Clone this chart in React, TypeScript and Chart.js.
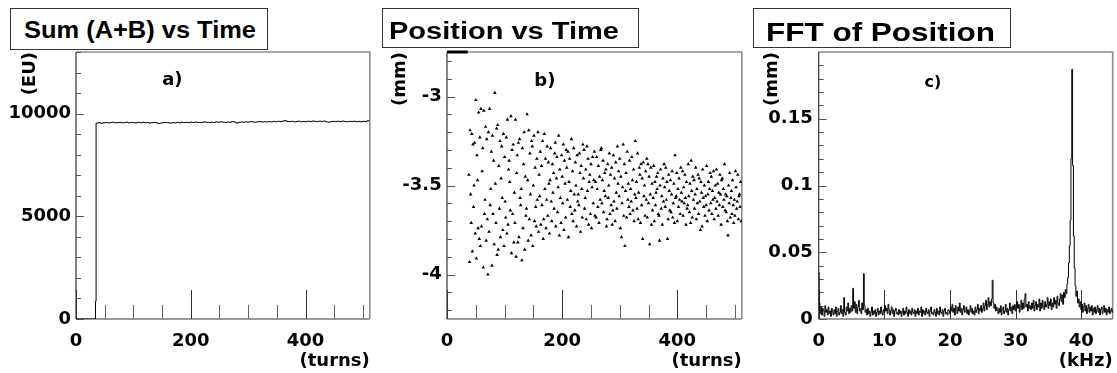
import React, { useEffect, useRef } from 'react';
import { Chart, registerables } from 'chart.js';

Chart.register(...registerables);

// ---------------- axis ticks ----------------
const turnTicks = [0, 50, 100, 150, 200, 250, 300, 350, 400, 450, 500];
const turnMajorTicks = [0, 200, 400];
const sumTicks = [0, 1000, 2000, 3000, 4000, 5000, 6000, 7000, 8000, 9000, 10000, 11000, 12000, 13000];
const sumMajorTicks = [0, 5000, 10000];
const posTicks = [-4.2, -4.1, -4, -3.9, -3.8, -3.7, -3.6, -3.5, -3.4, -3.3, -3.2, -3.1, -3, -2.9, -2.8];
const posMajorTicks = [-4, -3.5, -3];
const fftTicks = [0, 0.01, 0.02, 0.03, 0.04, 0.05, 0.06, 0.07, 0.08, 0.09, 0.1, 0.11, 0.12, 0.13, 0.14, 0.15, 0.16, 0.17, 0.18, 0.19];
const fftMajorTicks = [0, 0.05, 0.1, 0.15];
const kHzTicks = [0, 10, 20, 30, 40];
const kHzMajorTicks = [0, 10, 20, 30, 40];

// ---------------- a) Sum (A+B) vs Time ----------------
const sumPreTurns = [0, 34];
const sumPreValues = [0, 860];
const sumStartTurn = 35;
const sumBinTurns = 4;
const sumValues = [
  9540, 9560, 9530, 9555, 9570, 9545, 9560, 9580, 9550, 9565,
  9575, 9550, 9560, 9585, 9555, 9570, 9560, 9545, 9575, 9560,
  9580, 9555, 9565, 9540, 9560, 9575, 9550, 9520, 9545, 9560,
  9570, 9555, 9535, 9560, 9550, 9570, 9555, 9580, 9565, 9575,
  9560, 9585, 9570, 9590, 9575, 9560, 9580, 9595, 9575, 9560,
  9585, 9570, 9595, 9580, 9600, 9585, 9570, 9590, 9580, 9610,
  9590, 9540, 9575, 9595, 9580, 9600, 9585, 9610, 9595, 9580,
  9600, 9615, 9590, 9605, 9595, 9610, 9600, 9620, 9605, 9625,
  9610, 9630, 9660, 9620, 9610, 9625, 9600, 9615, 9630, 9605,
  9620, 9610, 9630, 9615, 9640, 9625, 9610, 9635, 9620, 9640,
  9600, 9585, 9610, 9625, 9610, 9630, 9615, 9635, 9620, 9605,
  9625, 9615, 9630, 9610, 9620, 9605, 9625, 9615, 9650, 9630,
];

// ---------------- b) Position vs Time ----------------
// turns before the beam arrives are off-scale (above the frame)
const posOffscaleTurns = [0, 36];
const posStartTurn = 38;
const posValues = [
  -3.44, -3.93, -3.19, -3.55, -3.71, -3.21, -3.87, -3.27, -3.62, -3.50,
  -3.26, -3.77, -3.02, -3.91, -3.33, -3.47, -3.74, -3.09, -3.80, -3.23,
  -3.84, -3.07, -3.73, -3.42, -3.29, -3.96, -3.08, -3.66, -3.58, -3.17,
  -3.81, -3.24, -3.69, -4.00, -3.20, -3.76, -3.07, -3.61, -3.52, -3.31,
  -3.95, -3.22, -3.66, -3.36, -3.83, -2.98, -3.49, -3.71, -3.18, -3.89,
  -3.16, -3.86, -3.39, -3.63, -3.25, -3.79, -3.46, -3.28, -3.57, -3.75,
  -3.21, -3.84, -3.34, -3.59, -3.68, -3.23, -3.77, -3.13, -3.72, -3.41,
  -3.36, -3.48, -3.64, -3.11, -3.88, -3.30, -3.66, -3.27, -3.82, -3.54,
  -3.71, -3.13, -3.90, -3.43, -3.33, -3.82, -3.26, -3.79, -3.24, -3.57,
  -3.61, -3.52, -3.92, -3.29, -3.74, -3.38, -3.20, -3.86, -3.45, -3.67,
  -3.63, -3.10, -3.47, -3.81, -3.19, -3.69, -3.32, -3.55, -3.78, -3.25,
  -3.28, -3.84, -3.50, -3.22, -3.70, -3.40, -3.62, -3.73, -3.35, -3.58,
  -3.20, -3.76, -3.44, -3.56, -3.31, -3.72, -3.39, -3.61, -3.25, -3.80,
  -3.69, -3.21, -3.52, -3.35, -3.74, -3.58, -3.28, -3.67, -3.37, -3.49,
  -3.77, -3.47, -3.29, -3.59, -3.70, -3.38, -3.54, -3.43, -3.63, -3.32,
  -3.26, -3.73, -3.46, -3.34, -3.65, -3.51, -3.22, -3.78, -3.41, -3.57,
  -3.71, -3.33, -3.45, -3.60, -3.27, -3.75, -3.36, -3.49, -3.68, -3.30,
  -3.40, -3.58, -3.31, -3.79, -3.48, -3.35, -3.62, -3.53, -3.24, -3.66,
  -3.42, -3.70, -3.29, -3.55, -3.64, -3.37, -3.50, -3.73, -3.33, -3.59,
  -3.55, -3.61, -3.32, -3.43, -3.76, -3.39, -3.52, -3.68, -3.27, -3.46,
  -3.30, -3.63, -3.57, -3.41, -3.69, -3.28, -3.53, -3.35, -3.72, -3.48,
  -3.44, -3.66, -3.38, -3.74, -3.51, -3.34, -3.60, -3.47, -3.31, -3.67,
  -3.48, -3.68, -3.34, -3.52, -3.62, -3.39, -3.71, -3.45, -3.58, -3.30,
  -3.29, -3.60, -3.47, -3.36, -3.65, -3.53, -3.43, -3.56, -3.41, -3.73,
  -3.69, -3.38, -3.57, -3.50, -3.32, -3.66, -3.44, -3.61, -3.40, -3.72,
  -3.64, -3.33, -3.59, -3.46, -3.70, -3.37, -3.54, -3.63, -3.28, -3.49,
  -3.42, -3.56, -3.35, -3.74, -3.45, -3.79, -3.60, -3.51, -3.27, -3.67,
  -3.38, -3.84, -3.53, -3.43, -3.68, -3.31, -3.58, -3.49, -3.62, -3.36,
  -3.66, -3.52, -3.59, -3.34, -3.47, -3.64, -3.41, -3.70, -3.55, -3.25,
  -3.57, -3.48, -3.63, -3.32, -3.69, -3.54, -3.40, -3.44, -3.71, -3.38,
  -3.61, -3.46, -3.80, -3.37, -3.56, -3.50, -3.67, -3.42, -3.58, -3.35,
  -3.68, -3.38, -3.60, -3.45, -3.83, -3.55, -3.40, -3.72, -3.49, -3.64,
  -3.57, -3.39, -3.70, -3.48, -3.61, -3.54, -3.45, -3.52, -3.43, -3.66,
  -3.67, -3.81, -3.50, -3.41, -3.63, -3.56, -3.72, -3.46, -3.59, -3.38,
  -3.51, -3.62, -3.40, -3.58, -3.48, -3.80, -3.69, -3.44, -3.53, -3.64,
  -3.47, -3.65, -3.55, -3.42, -3.68, -3.60, -3.49, -3.71, -3.33, -3.57,
  -3.56, -3.43, -3.70, -3.52, -3.62, -3.46, -3.58, -3.66, -3.40, -3.54,
  -3.59, -3.42, -3.67, -3.51, -3.60, -3.44, -3.57, -3.72, -3.48, -3.63,
  -3.61, -3.38, -3.56, -3.65, -3.49, -3.71, -3.36, -3.53, -3.68, -3.45,
  -3.58, -3.47, -3.63, -3.55, -3.40, -3.69, -3.52, -3.60, -3.44, -3.66,
  -3.46, -3.59, -3.75, -3.48, -3.54, -3.73, -3.41, -3.57, -3.62, -3.50,
  -3.67, -3.56, -3.61, -3.39, -3.70, -3.55, -3.48, -3.64, -3.52, -3.43,
  -3.60, -3.45, -3.66, -3.53, -3.58, -3.42, -3.69, -3.57, -3.50, -3.63,
  -3.41, -3.59, -3.49, -3.67, -3.54, -3.61, -3.44, -3.55, -3.72, -3.47,
  -3.46, -3.62, -3.52, -3.58, -3.38, -3.64, -3.55, -3.65, -3.56, -3.70,
  -3.78, -3.50, -3.60, -3.43, -3.68, -3.57, -3.53, -3.66, -3.47, -3.61,
  -3.71, -3.58, -3.67, -3.42, -3.51, -3.63, -3.59, -3.44, -3.69, -3.56,
  -3.55, -3.62, -3.48, -3.70,
];

// ---------------- c) FFT of Position (0.125 kHz bins) ----------------
const fftBinKHz = 0.125;
const fftValues = [
  0.035, 0.012, 0.004, 0.009, 0.003, 0.008, 0.006, 0.002, 0.010, 0.005, 0.007, 0.003, 0.009, 0.004, 0.006, 0.002, 0.008, 0.005, 0.003, 0.007,
  0.004, 0.009, 0.002, 0.006, 0.008, 0.003, 0.005, 0.010, 0.004, 0.007, 0.002, 0.016, 0.005, 0.003, 0.009, 0.006, 0.012, 0.004, 0.008, 0.005,
  0.010, 0.006, 0.023, 0.008, 0.013, 0.005, 0.011, 0.004, 0.009, 0.014, 0.006, 0.008, 0.004, 0.012, 0.007, 0.034, 0.010, 0.005, 0.007, 0.003,
  0.008, 0.004, 0.006, 0.002, 0.005, 0.009, 0.003, 0.006, 0.004, 0.007, 0.002, 0.005, 0.008, 0.003, 0.006, 0.004, 0.009, 0.005, 0.003, 0.007,
  0.005, 0.010, 0.006, 0.008, 0.004, 0.011, 0.007, 0.003, 0.006, 0.009, 0.004, 0.007, 0.002, 0.006, 0.008, 0.004, 0.005, 0.003, 0.007, 0.004,
  0.006, 0.002, 0.005, 0.008, 0.003, 0.006, 0.004, 0.009, 0.005, 0.002, 0.007, 0.004, 0.006, 0.003, 0.008, 0.005, 0.004, 0.007, 0.002, 0.006,
  0.004, 0.008, 0.003, 0.006, 0.005, 0.009, 0.002, 0.007, 0.004, 0.006, 0.003, 0.008, 0.005, 0.004, 0.007, 0.002, 0.006, 0.009, 0.004, 0.005,
  0.003, 0.007, 0.005, 0.002, 0.008, 0.004, 0.006, 0.003, 0.009, 0.005, 0.004, 0.007, 0.002, 0.006, 0.008, 0.004, 0.005, 0.003, 0.007, 0.006,
  0.004, 0.009, 0.006, 0.011, 0.005, 0.008, 0.003, 0.010, 0.007, 0.004, 0.009, 0.006, 0.012, 0.005, 0.008, 0.003, 0.007, 0.010, 0.005, 0.006,
  0.009, 0.004, 0.007, 0.003, 0.006, 0.010, 0.005, 0.008, 0.004, 0.006, 0.003, 0.009, 0.005, 0.007, 0.011, 0.004, 0.008, 0.006, 0.010, 0.005,
  0.008, 0.012, 0.006, 0.010, 0.014, 0.007, 0.011, 0.016, 0.009, 0.013, 0.010, 0.015, 0.029, 0.012, 0.008, 0.011, 0.006, 0.009, 0.007, 0.004,
  0.008, 0.005, 0.010, 0.003, 0.007, 0.009, 0.004, 0.006, 0.011, 0.005, 0.008, 0.003, 0.007, 0.012, 0.006, 0.009, 0.004, 0.010, 0.007, 0.011,
  0.006, 0.010, 0.013, 0.008, 0.011, 0.005, 0.009, 0.014, 0.007, 0.012, 0.008, 0.015, 0.019, 0.009, 0.011, 0.006, 0.013, 0.008, 0.010, 0.007,
  0.012, 0.008, 0.014, 0.006, 0.010, 0.013, 0.007, 0.011, 0.009, 0.015, 0.006, 0.012, 0.008, 0.014, 0.010, 0.007, 0.013, 0.009, 0.011, 0.016,
  0.008, 0.013, 0.010, 0.015, 0.007, 0.012, 0.009, 0.016, 0.011, 0.014, 0.008, 0.017, 0.012, 0.010, 0.015, 0.019, 0.013, 0.018, 0.011, 0.020,
  0.016, 0.022, 0.019, 0.026, 0.031, 0.042, 0.055, 0.074, 0.120, 0.187, 0.115, 0.062, 0.038, 0.025, 0.017, 0.021, 0.012, 0.015, 0.009, 0.013,
  0.007, 0.011, 0.005, 0.009, 0.012, 0.006, 0.010, 0.004, 0.008, 0.011, 0.005, 0.009, 0.006, 0.010, 0.003, 0.008, 0.005, 0.009, 0.004, 0.007,
  0.010, 0.005, 0.008, 0.003, 0.007, 0.009, 0.004, 0.006, 0.010, 0.005, 0.008, 0.003, 0.007, 0.005, 0.009, 0.004, 0.006, 0.008, 0.005, 0.007,
];

// ---------------- helpers ----------------
const FONT = 'DejaVu Sans';

const rootFrame = {
  id: 'rootFrame',
  beforeDatasetsDraw(chart: any, _args: any, opts: any) {
    const { ctx, chartArea } = chart;
    const { left, right, top, bottom } = chartArea;
    const xs = chart.scales.x;
    const ys = chart.scales.y;
    ctx.save();
    ctx.lineCap = 'butt';
    ctx.strokeStyle = '#8c8c8c';
    ctx.lineWidth = 1.6;
    ctx.beginPath();
    ctx.moveTo(left, top);
    ctx.lineTo(right, top);
    ctx.lineTo(right, bottom);
    ctx.stroke();
    ctx.strokeStyle = '#7a7a7a';
    ctx.lineWidth = 1.3;
    ctx.beginPath();
    ctx.moveTo(left, bottom);
    ctx.lineTo(right, bottom);
    ctx.stroke();
    ctx.strokeStyle = '#444';
    ctx.beginPath();
    ctx.moveTo(left, top);
    ctx.lineTo(left, bottom);
    ctx.stroke();
    ctx.lineWidth = 1;
    for (const t of xs.ticks) {
      const major = opts.xMajor.includes(t.value);
      const px = Math.round(xs.getPixelForValue(t.value)) + 0.5;
      ctx.strokeStyle = major ? '#333' : '#666';
      ctx.beginPath();
      ctx.moveTo(px, bottom);
      ctx.lineTo(px, bottom - (major ? 29 : 14));
      ctx.stroke();
    }
    for (const t of ys.ticks) {
      const major = opts.yMajor.includes(t.value);
      const py = Math.round(ys.getPixelForValue(t.value)) + 0.5;
      ctx.strokeStyle = '#555';
      ctx.beginPath();
      ctx.moveTo(left, py);
      ctx.lineTo(left + (major ? 8 : 5), py);
      ctx.stroke();
    }
    ctx.restore();
  },
  afterDatasetsDraw(chart: any, _args: any, opts: any) {
    const { ctx } = chart;
    const xs = chart.scales.x;
    const ys = chart.scales.y;
    ctx.save();
    ctx.font = `bold ${opts.labelSize}px "${FONT}"`;
    ctx.fillStyle = '#000';
    ctx.textAlign = 'center';
    ctx.textBaseline = 'middle';
    ctx.fillText(opts.label, xs.getPixelForValue(opts.labelAt[0]), ys.getPixelForValue(opts.labelAt[1]));
    ctx.restore();
  },
};

type PanelCfg = {
  type: 'line' | 'scatter';
  datasets: any[];
  xMin: number; xMax: number; yMin: number; yMax: number;
  xTicks: number[]; xMajor: number[]; yTicks: number[]; yMajor: number[];
  xTitle: string; yTitle: string;
  axisWidth: number; padRight: number; yTitlePad: number; yLabelPad: number;
  label: string; labelAt: [number, number]; labelSize: number;
};

const tickFont = { family: FONT, weight: 'bold' as const, size: 18 };

function makeChart(canvas: HTMLCanvasElement, c: PanelCfg) {
  return new Chart(canvas, {
    type: c.type,
    data: { datasets: c.datasets },
    options: {
      animation: false,
      responsive: false,
      devicePixelRatio: 1,
      layout: { padding: { left: 0, top: 52, right: c.padRight, bottom: 0 } },
      plugins: {
        legend: { display: false },
        tooltip: { enabled: false },
        rootFrame: { xMajor: c.xMajor, yMajor: c.yMajor, label: c.label, labelAt: c.labelAt, labelSize: c.labelSize },
      } as any,
      scales: {
        x: {
          type: 'linear',
          min: c.xMin,
          max: c.xMax,
          grid: { display: false, drawTicks: false, tickLength: 0 },
          border: { display: false },
          afterBuildTicks: (s: any) => { s.ticks = c.xTicks.map((v) => ({ value: v })); },
          afterFit: (s: any) => { s.height = 54; },
          ticks: {
            autoSkip: false,
            maxRotation: 0,
            padding: 12,
            color: '#000',
            font: tickFont,
            callback: (v: any) => (c.xMajor.includes(v) ? String(v) : ''),
          },
          title: {
            display: true,
            text: c.xTitle,
            align: 'end',
            color: '#000',
            font: tickFont,
            padding: { top: 0, bottom: 1 },
          },
        },
        y: {
          type: 'linear',
          min: c.yMin,
          max: c.yMax,
          grid: { display: false, drawTicks: false, tickLength: 0 },
          border: { display: false },
          afterBuildTicks: (s: any) => { s.ticks = c.yTicks.map((v) => ({ value: v })); },
          afterFit: (s: any) => { s.width = c.axisWidth; },
          ticks: {
            autoSkip: false,
            padding: c.yLabelPad,
            color: '#000',
            font: tickFont,
            callback: (v: any) => (c.yMajor.includes(v) ? String(v) : ''),
          },
          title: {
            display: true,
            text: c.yTitle,
            align: 'end',
            color: '#000',
            font: tickFont,
            padding: { top: c.yTitlePad, bottom: 0 },
          },
        },
      },
    } as any,
    plugins: [rootFrame as any],
  });
}

function TitleBox(props: { text: string; left: number; top: number; width: number; height: number; textLeft: number; textTop: number; size: number; textWidth: number }) {
  const font = `bold ${props.size}px "Liberation Sans"`;
  let natural = props.textWidth;
  if (typeof document !== 'undefined') {
    const m = document.createElement('canvas').getContext('2d');
    if (m) {
      m.font = font;
      natural = m.measureText(props.text).width;
    }
  }
  const sx = props.textWidth / natural;
  return (
    <>
      <div
        style={{
          position: 'absolute',
          left: props.left,
          top: props.top,
          width: props.width,
          height: props.height,
          border: '1px solid #333',
          boxSizing: 'border-box',
          background: '#fff',
        }}
      />
      <div
        style={{
          position: 'absolute',
          left: props.textLeft,
          top: props.textTop,
          font,
          lineHeight: 1,
          whiteSpace: 'nowrap',
          color: '#000',
          transform: `scaleX(${sx})`,
          transformOrigin: 'left top',
        }}
      >
        {props.text}
      </div>
    </>
  );
}

export default function App() {
  const refA = useRef<HTMLCanvasElement>(null);
  const refB = useRef<HTMLCanvasElement>(null);
  const refC = useRef<HTMLCanvasElement>(null);

  useEffect(() => {
    const posMax = -2.75;
    const sumData = [
      ...sumPreTurns.map((t, i) => ({ x: t, y: sumPreValues[i] })),
      ...sumValues.map((v, i) => ({ x: sumStartTurn + i * sumBinTurns, y: v })),
    ];
    const posData = posValues.map((v, i) => ({ x: posStartTurn + i, y: v }));
    const posOffData = posOffscaleTurns.map((t) => ({ x: t, y: posMax }));
    const fftData = fftValues.map((v, i) => ({ x: i * fftBinKHz, y: v }));

    const a = makeChart(refA.current!, {
      type: 'line',
      datasets: [{ data: sumData, borderColor: '#000', borderWidth: 1, pointRadius: 0, stepped: 'before', fill: false }],
      xMin: 0, xMax: 512, yMin: 0, yMax: 13000,
      xTicks: turnTicks, xMajor: turnMajorTicks, yTicks: sumTicks, yMajor: sumMajorTicks,
      xTitle: '(turns)', yTitle: '(EU)',
      axisWidth: 76, padRight: 4, yTitlePad: 20, yLabelPad: 5,
      label: 'a)', labelAt: [168, 11640], labelSize: 18,
    });
    const b = makeChart(refB.current!, {
      type: 'scatter',
      datasets: [
        { data: posData, backgroundColor: '#000', borderColor: '#000', borderWidth: 0, pointStyle: 'triangle', pointRadius: 2.1 },
        { data: posOffData, showLine: true, borderColor: '#000', borderWidth: 3, pointRadius: 0, clip: false },
      ],
      xMin: 0, xMax: 512, yMin: -4.25, yMax: posMax,
      xTicks: turnTicks, xMajor: turnMajorTicks, yTicks: posTicks, yMajor: posMajorTicks,
      xTitle: '(turns)', yTitle: '(mm)',
      axisWidth: 72, padRight: 4.3, yTitlePad: 14.7, yLabelPad: 5.3,
      label: 'b)', labelAt: [170, -2.916], labelSize: 18,
    });
    const c = makeChart(refC.current!, {
      type: 'line',
      datasets: [{ data: fftData, borderColor: '#000', borderWidth: 1, pointRadius: 0, stepped: 'middle', fill: false }],
      xMin: 0, xMax: 44.8, yMin: 0, yMax: 0.2,
      xTicks: kHzTicks, xMajor: kHzMajorTicks, yTicks: fftTicks, yMajor: fftMajorTicks,
      xTitle: '(kHz)', yTitle: '(mm)',
      axisWidth: 71.7, padRight: 4.3, yTitlePad: 14.7, yLabelPad: 6,
      label: 'c)', labelAt: [17.4, 0.1768], labelSize: 16,
    });
    return () => {
      a.destroy();
      b.destroy();
      c.destroy();
    };
  }, []);

  return (
    <div style={{ position: 'absolute', left: 0, top: 0, width: 1117, height: 373, background: '#fff', overflow: 'hidden' }}>
      <canvas ref={refA} width={375} height={373} style={{ position: 'absolute', left: 0, top: 0 }} />
      <canvas ref={refB} width={372} height={373} style={{ position: 'absolute', left: 375, top: 0 }} />
      <canvas ref={refC} width={370} height={373} style={{ position: 'absolute', left: 747, top: 0 }} />
      <TitleBox text="Sum (A+B) vs Time" left={10} top={8} width={258} height={42} textLeft={24} textTop={18.7} size={23} textWidth={232} />
      <TitleBox text="Position vs Time" left={382} top={8} width={257} height={40} textLeft={389} textTop={20.3} size={23} textWidth={230} />
      <TitleBox text="FFT of Position" left={753} top={8} width={258} height={40} textLeft={766} textTop={20} size={25.5} textWidth={229} />
    </div>
  );
}
